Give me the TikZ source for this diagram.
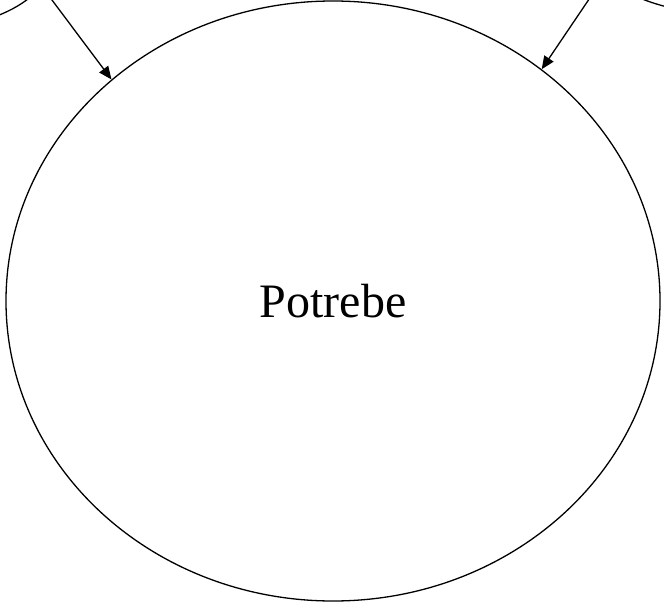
\documentclass[tikz,border=0pt]{standalone}
\usepackage{fontspec}
\setmainfont{Liberation Serif}
\usetikzlibrary{arrows.meta,shapes.geometric}

\begin{document}
\begin{tikzpicture}[x=1pt,y=-1pt,line width=1.3pt,every node/.style={font=\fontsize{48}{56}\selectfont}]
\useasboundingbox (0,0) rectangle (664,605);
\clip (0,0) rectangle (664,605);
\node[ellipse,draw,inner sep=0pt,minimum width=654pt,minimum height=600pt](potrebe) at (333,301){Potrebe};
\draw (-60,-60) ellipse [x radius=121,y radius=86];\draw (720,-60) ellipse [x radius=132,y radius=73];
\coordinate (lsrc) at (37,-20);\coordinate (rsrc) at (602,-20);
\draw[-{Triangle[length=13pt,width=11pt]}] (lsrc) -- (potrebe.135.3);
\draw[-{Triangle[length=13pt,width=11pt]}] (rsrc) -- (potrebe.48.3);
\end{tikzpicture}
\end{document}
